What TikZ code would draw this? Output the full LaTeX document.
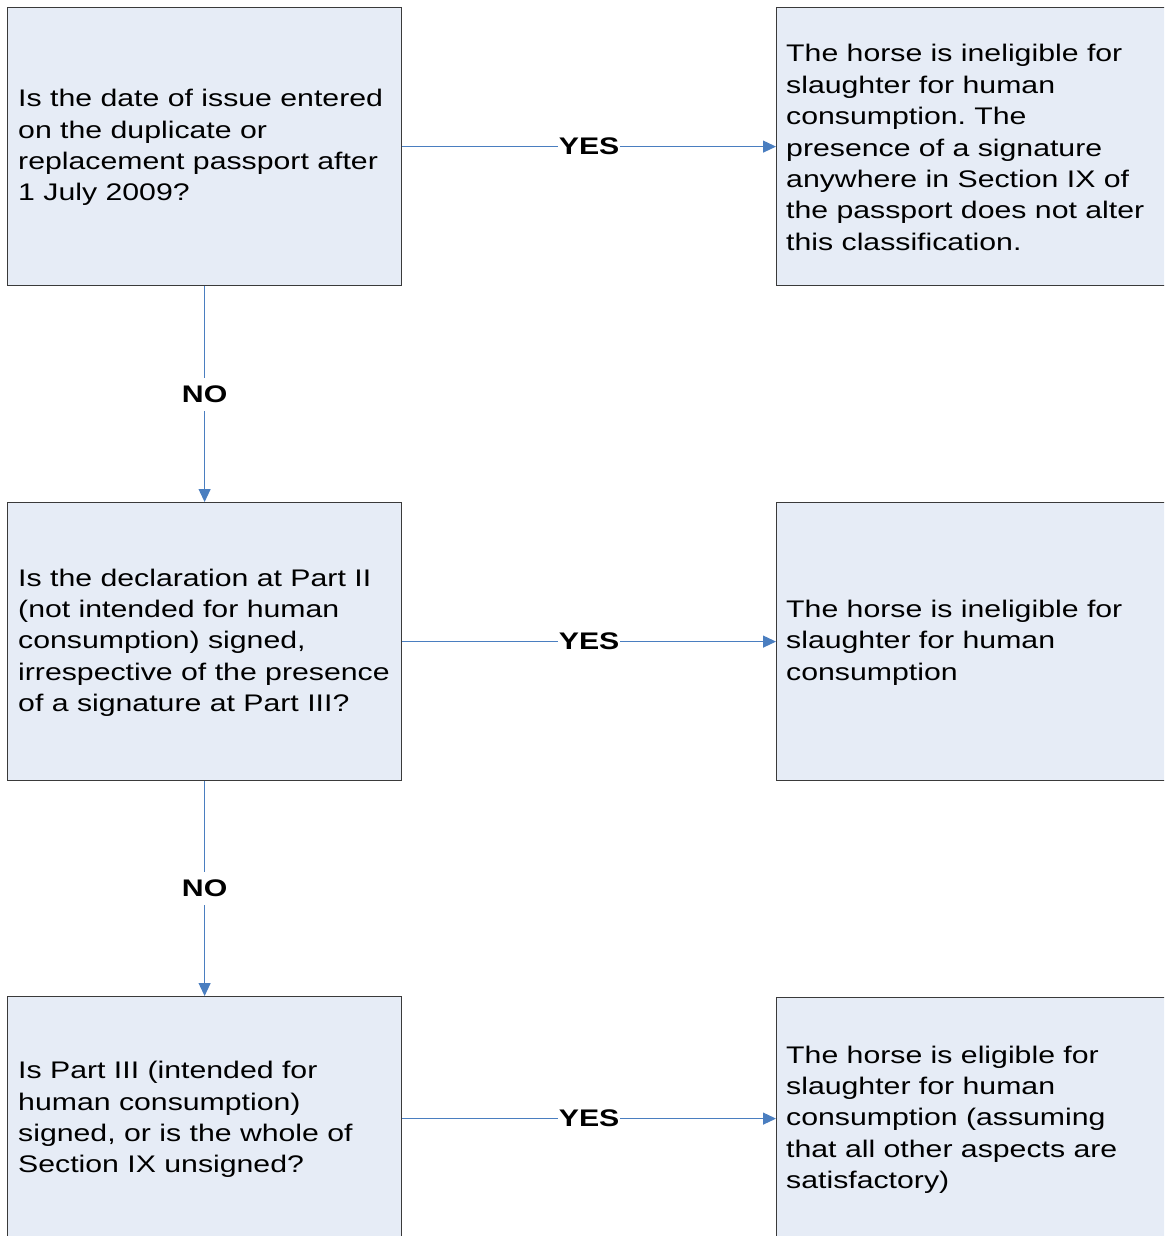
\documentclass[tikz,border=0pt]{standalone}
\usepackage{fontspec}
\setmainfont[FakeStretch=1.26]{Liberation Sans}
\usetikzlibrary{arrows.meta}
\definecolor{boxfill}{HTML}{E6ECF6}
\definecolor{boxline}{HTML}{3A3A3A}
\definecolor{arrowblue}{HTML}{4A7EC0}
\frenchspacing
\begin{document}
\begin{tikzpicture}[x=1pt,y=-1pt,
  box/.style={draw=boxline, line width=1.2pt, fill=boxfill, anchor=north west, inner sep=0pt},
  lbox/.style={box, minimum width=394pt},
  rbox/.style={box, minimum width=430pt},
  btext/.style={anchor=west, align=left, inner sep=0pt, font=\fontsize{24}{31.4}\selectfont},
  conn/.style={draw=arrowblue, line width=1.1pt, -{Triangle[length=13pt,width=12pt]}},
  lbl/.style={fill=white, inner xsep=1pt, inner ysep=0pt, minimum height=33pt, font=\fontsize{24}{28}\selectfont\bfseries}
]
\useasboundingbox (0,0) rectangle (1164,1236);
\clip (0,0) rectangle (1164,1236);
\fill[white] (0,0) rectangle (1164,1236);
% left column boxes
\node[lbox, minimum height=278pt] (q1) at (7,7) {};
\node[lbox, minimum height=278pt] (q2) at (7,502) {};
\node[lbox, minimum height=244pt] (q3) at (7,996) {};
% right column boxes
\node[rbox, minimum height=278pt] (r1) at (776,7) {};
\node[rbox, minimum height=278pt] (r2) at (776,502) {};
\node[rbox, minimum height=242pt] (r3) at (776,997) {};
% texts
\node[btext] (tq1) at ([xshift=11pt,yshift=-1pt]q1.west) {Is the date of issue entered\\on the duplicate or\\replacement passport after\\1 July 2009?};
\node[btext] (tq2) at ([xshift=11pt,yshift=-1pt]q2.west) {Is the declaration at Part II\\(not intended for human\\consumption) signed,\\irrespective of the presence\\of a signature at Part III?};
\node[btext] (tq3) at ([xshift=11pt,yshift=-1pt]q3.west) {Is Part III (intended for\\human consumption)\\signed, or is the whole of\\Section IX unsigned?};
\node[btext] (tr1) at ([xshift=10pt,yshift=-1pt]r1.west) {The horse is ineligible for\\slaughter for human\\consumption. The\\presence of a signature\\anywhere in Section IX of\\the passport does not alter\\this classification.};
\node[btext] (tr2) at ([xshift=10pt,yshift=-1pt]r2.west) {The horse is ineligible for\\slaughter for human\\consumption};
\node[btext] (tr3) at ([xshift=10pt,yshift=-1pt]r3.west) {The horse is eligible for\\slaughter for human\\consumption (assuming\\that all other aspects are\\satisfactory)};
% connectors
\draw[conn] (q1.east) -- node[lbl] (y1) {YES} (r1.west);
\draw[conn] (q2.east) -- node[lbl] (y2) {YES} (r2.west);
\draw[conn] (q3.east) -- node[lbl] (y3) {YES} (r3.west);
\draw[conn] (q1.south) -- node[lbl] (n1) {NO} (q2.north);
\draw[conn] (q2.south) -- node[lbl] (n2) {NO} (q3.north);
\end{tikzpicture}
\end{document}
